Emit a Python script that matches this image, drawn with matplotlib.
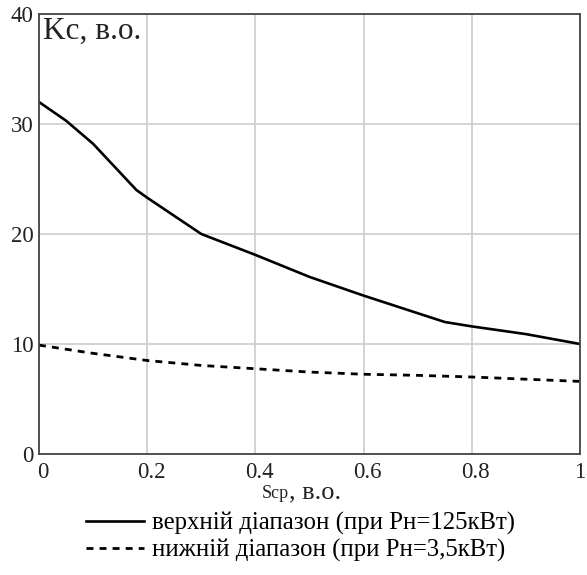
import numpy as np
import matplotlib
matplotlib.use("Agg")
import matplotlib.pyplot as plt
from matplotlib.transforms import ScaledTranslation

# curve data
s_upper = [0.0, 0.05, 0.1, 0.18, 0.2, 0.3, 0.4, 0.5, 0.6, 0.75, 0.8, 0.9, 1.0]
k_upper = [32.0, 30.3, 28.2, 24.0, 23.3, 20.0, 18.1, 16.1, 14.4, 12.0, 11.6, 10.9, 10.0]

s_lower = [0.0, 0.1, 0.2, 0.3, 0.4, 0.5, 0.6, 0.7, 0.8, 0.9, 1.0]
k_lower = [9.9, 9.15, 8.5, 8.05, 7.75, 7.45, 7.25, 7.15, 7.0, 6.8, 6.6]

x_ticks = [0, 0.2, 0.4, 0.6, 0.8, 1]
x_labels = ["0", "0.2", "0.4", "0.6", "0.8", "1"]
y_ticks = [0, 10, 20, 30, 40]

label_upper = "верхній діапазон (при Рн=125кВт)"
label_lower = "нижній діапазон (при Рн=3,5кВт)"

plt.rcParams["font.family"] = ["Liberation Serif", "DejaVu Serif"]

fig = plt.figure(figsize=(5.87, 5.75), dpi=100)
ax = fig.add_axes([39 / 587, 1 - 454 / 575, 541 / 587, 440 / 575])

l1, = ax.plot(s_upper, k_upper, color="black", lw=1.9, label=label_upper)
l2, = ax.plot(s_lower, k_lower, color="black", lw=2.0,
              linestyle=(0, (2.5, 2.2)), label=label_lower)

ax.set_xlim(0, 1)
ax.set_ylim(0, 40)
ax.set_xticks(x_ticks)
ax.set_xticklabels(x_labels)
ax.set_yticks(y_ticks)
ax.tick_params(length=0, labelsize=16.5, colors="#222222")
ax.tick_params(axis="x", pad=6)
ax.tick_params(axis="y", pad=4)
# x labels sit a little right of their grid lines in the original
shift = ScaledTranslation(4 / 100, 0, fig.dpi_scale_trans)
for lab in ax.get_xticklabels()[:-1]:
    lab.set_transform(lab.get_transform() + shift)
ax.grid(True, color="#cccccc", lw=1.2)
ax.set_axisbelow(True)
for sp in ax.spines.values():
    sp.set_color("#444444")
    sp.set_linewidth(1.3)

ax.text(0.0075, (454 - 39) / 440, "Kc, в.о.", transform=ax.transAxes, fontsize=22.5,
        ha="left", va="baseline", color="#222222")

# x axis caption: small "Sср" + ", в.о."
cap_x = 289 / 587
cap_y = 1 - 498 / 575
fig.text(cap_x, cap_y, "Sср", fontsize=13, ha="right", va="baseline",
         color="#222222")
fig.text(cap_x, cap_y, ", в.о.", fontsize=19, ha="left", va="baseline",
         color="#222222")

fig.legend(handles=[l1, l2], loc="upper left",
           bbox_to_anchor=(86 / 587, 1 - 512 / 575), frameon=False,
           fontsize=17.8, handlelength=2.35, handletextpad=0.3,
           labelspacing=0.15, borderpad=0, borderaxespad=0)

fig.savefig("out.png", dpi=100)
